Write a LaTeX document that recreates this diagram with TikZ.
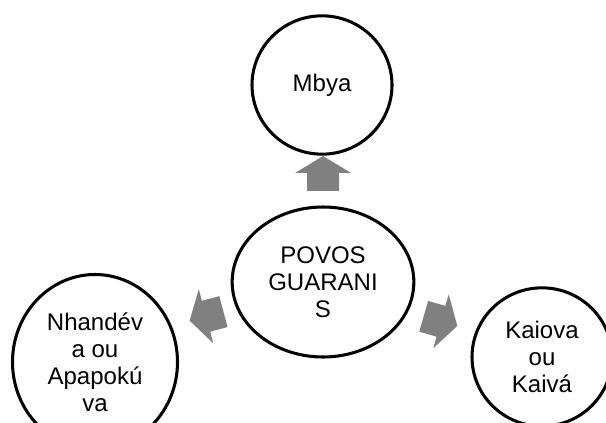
\documentclass[tikz,border=0pt]{standalone}
\usepackage{fontspec}
\setmainfont{Liberation Sans}
\usetikzlibrary{shapes.geometric}

\definecolor{setacinza}{RGB}{128,128,128}

\tikzset{
  povo/.style={draw=black, ellipse, line width=2.6pt, inner sep=0pt,
    align=center, font=\fontsize{20.5}{23}\selectfont},
}

% seta de bloco: x, y, angulo
\newcommand{\setabloco}[3]{%
  \fill[setacinza, shift={(#1,#2)}, rotate=#3]
    (-17,-16) -- (1,-16) -- (1,-28) -- (18,0) -- (1,28) -- (1,16) -- (-17,16) -- cycle;}

\begin{document}
\begin{tikzpicture}[x=0.3mm, y=-0.3mm]
    \useasboundingbox (0,0) rectangle (606,423);

    % circulo central
    \node[povo, minimum width=5.45cm, minimum height=4.5cm] (povos) at (323,282) {POVOS\\GUARANI\\S};

    % circulos em volta
    \node[povo, minimum width=4.2cm, minimum height=4.15cm] (mbya) at (322,85) {Mbya};
    \node[povo, minimum width=4.95cm, minimum height=5.25cm] (nhandeva) at (95,362) {Nhand\'ev\\a ou\\Apapok\'u\\va};
    \node[povo, minimum width=4.2cm, minimum height=4.15cm] (kaiova) at (542,357) {Kaiova\\ou\\Kaiv\'a};

    % setas
    \setabloco{323}{174}{90}
    \setabloco{207}{316}{195}
    \setabloco{440}{321}{-16}
\end{tikzpicture}
\end{document}
